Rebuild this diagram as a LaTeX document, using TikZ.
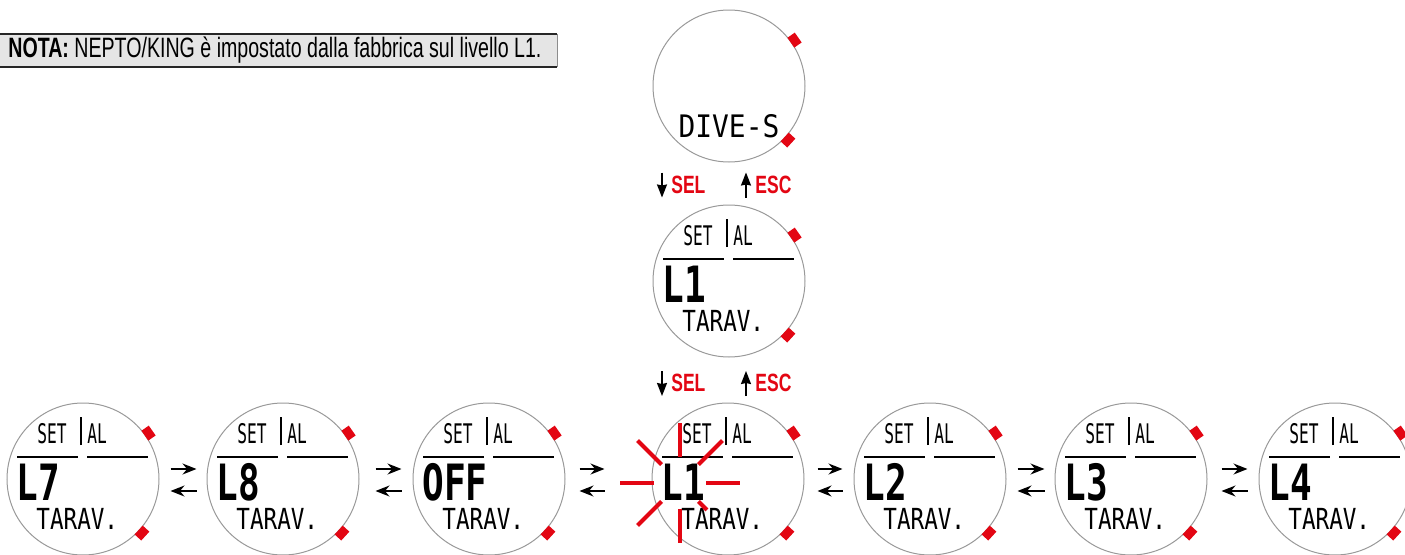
\documentclass[tikz,border=0pt]{standalone}
\usepackage{fontspec}
\usetikzlibrary{arrows.meta,calc}
\newfontfamily\notafont[FakeStretch=0.7]{Liberation Sans}
\newfontfamily\lcdfont[FakeStretch=0.6]{DejaVu Sans Mono}
\newfontfamily\lcdbig[FakeStretch=0.72]{DejaVu Sans Mono}
\newfontfamily\lcdwide[FakeStretch=0.9]{DejaVu Sans Mono}
\definecolor{btnred}{RGB}{227,6,19}

\tikzset{
  watch/.style={circle, draw=black!40, line width=0.5pt, minimum size=76pt, inner sep=0pt},
  btn/.style={fill=btnred, minimum width=4.5pt, minimum height=6pt, inner sep=0pt},
  lcd/.style={inner sep=0pt, font=\lcdfont\fontsize{13.5}{13}\selectfont},
  lvl/.style={inner sep=0pt, anchor=west, font=\lcdbig\bfseries\fontsize{25}{25}\selectfont},
  tarav/.style={inner sep=0pt, anchor=west, font=\lcdfont\addfontfeature{FakeStretch=0.78}\fontsize{14.5}{14}\selectfont},
  lcdline/.style={line width=0.6pt},
  navh/.style={-{Stealth[length=7pt,width=5.5pt]}, line width=0.7pt},
  navv/.style={-{Stealth[length=6.5pt,width=5pt,inset=0.5pt]}, line width=0.8pt},
  key/.style={text=btnred, inner sep=0pt, anchor=west, font=\notafont\bfseries\fontsize{12.5}{12}\selectfont},
  burst/.style={btnred, line width=2pt},
}

\newcommand\watchbtns[1]{%
  \node[btn, rotate=35] (#1-up) at ($(#1)+(35:80)$) {};
  \node[btn, rotate=-42.5] (#1-dn) at ($(#1)+(-42.5:80)$) {};
}

\newcommand\setface[2]{%
  \node[lcd] (#1-set) at ($(#1)+(-31,45)$) {SET};
  \node[lcd, anchor=west] (#1-al) at ($(#1)+(4,45)$) {AL};
  \draw[lcdline] ($(#1)+(-2,34)$) -- ($(#1)+(-2,62)$);
  \draw[lcdline] ($(#1)+(-66,22)$) -- ($(#1)+(-5,22)$);
  \draw[lcdline] ($(#1)+(4,22)$) -- ($(#1)+(65,22)$);
  \node[lvl] (#1-lvl) at ($(#1)+(-67,-3)$) {#2};
  \node[tarav] (#1-tar) at ($(#1)+(-47,-40)$) {TARAV.};
}

\begin{document}
\begin{tikzpicture}[x=0.5pt, y=0.5pt]
    \useasboundingbox (0,0) rectangle (1405,554);

    \fill[black!10] (0,487) rectangle (557,520);
    \draw[line width=0.8pt, black!85] (0,520) -- (557,520);
    \draw[line width=0.8pt, black!85] (0,487) -- (557,487);
    \draw[line width=0.5pt, black!45] (557,487) -- (557,520);
    \node[anchor=west, inner sep=0pt, font=\notafont\fontsize{14}{14}\selectfont]
      (nota) at (8,503.5) {\textbf{NOTA:} NEPTO/KING è impostato dalla fabbrica sul livello L1.};

    \node[watch] (wdive) at (729,468) {};
    \watchbtns{wdive}
    \node[inner sep=0pt, font=\lcdwide\fontsize{15.5}{15}\selectfont]
      (wdive-txt) at ($(wdive)+(0,-40)$) {DIVE-S};

    \node[key] (sel1) at (671,369.5) {SEL};
    \node[key] (esc1) at (755,369.5) {ESC};
    \draw[navv] ([shift={(-9,12)}]sel1.west) -- ([shift={(-9,-13)}]sel1.west);
    \draw[navv] ([shift={(-9,-13)}]esc1.west) -- ([shift={(-9,12)}]esc1.west);

    \node[watch] (wset) at (729,273) {};
    \watchbtns{wset}
    \setface{wset}{L1}

    \node[key] (sel2) at (671,171) {SEL};
    \node[key] (esc2) at (755,171) {ESC};
    \draw[navv] ([shift={(-9,12)}]sel2.west) -- ([shift={(-9,-13)}]sel2.west);
    \draw[navv] ([shift={(-9,-13)}]esc2.west) -- ([shift={(-9,12)}]esc2.west);

    \foreach \n/\x/\lv in {w7/83/L7, w8/283/L8, woff/489/OFF, wl1/728/L1, w2/930/L2, w3/1131/L3, w4/1335/L4}{
      \node[watch] (\n) at (\x,75) {};
      \watchbtns{\n}
      \setface{\n}{\lv}
    }

    \foreach \a/\b/\s/\e in {w7/w8/5.5pt/5pt, w8/woff/8pt/5.5pt, woff/wl1/7pt/23.5pt,
                             wl1/w2/6.5pt/5.5pt, w2/w3/5.5pt/5pt, w3/w4/7pt/5.5pt}{
      \draw[navh, shorten <=\s, shorten >=\e] ([yshift=5pt]\a.east) -- ([yshift=5pt]\b.west);
      \draw[navh, shorten <=\e, shorten >=\s] ([yshift=-6pt]\b.west) -- ([yshift=-6pt]\a.east);
    }

    \coordinate (blink) at ($(wl1)+(-48,-4)$);
    \foreach \ang/\len in {0/60, 45/60, 90/60, 135/60, 180/60, 225/60, 270/60, 315/38}
      \draw[burst] ($(blink)+(\ang:26)$) -- ($(blink)+(\ang:\len)$);
\end{tikzpicture}
\end{document}
